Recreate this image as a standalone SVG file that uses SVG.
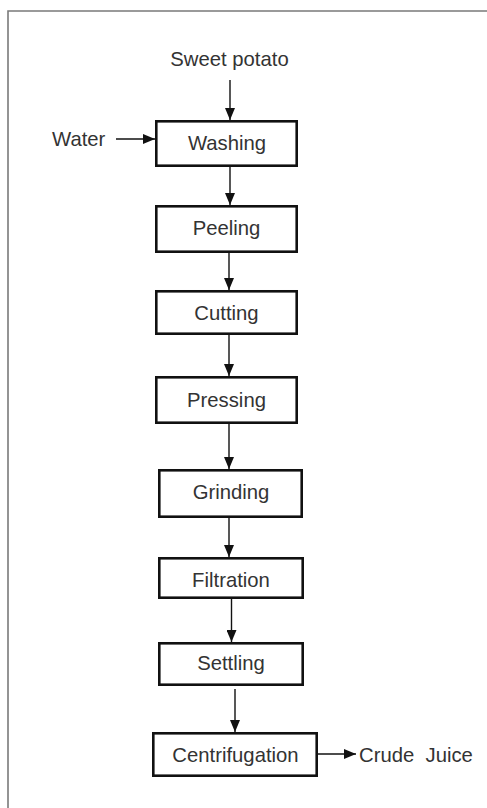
<svg xmlns="http://www.w3.org/2000/svg" width="487" height="808" viewBox="0 0 487 808">
  <style>
    .box { fill: #ffffff; stroke: #111111; stroke-width: 2.6; }
    .lbl { font-family: "Liberation Sans", Arial, sans-serif; font-size: 20.3px; fill: #333333; text-anchor: middle; }
    .lbl-s { font-family: "Liberation Sans", Arial, sans-serif; font-size: 20.3px; fill: #333333; text-anchor: start; }
    .conn { stroke: #111111; stroke-width: 1.4; fill: none; marker-end: url(#arrow); }
  </style>
  <defs>
    <marker id="arrow" markerUnits="userSpaceOnUse" markerWidth="12" markerHeight="10" refX="12" refY="5" orient="auto">
      <path d="M0,0 L12,5 L0,10 Z" fill="#111111"/>
    </marker>
  </defs>
  <rect x="0" y="0" width="487" height="808" fill="#ffffff"/>
  <path d="M8,820 L8,11 L500,11" fill="none" stroke="#7a7a7a" stroke-width="1.6"/>

  <g id="connectors">
    <line class="conn" x1="230" y1="80" x2="230" y2="120"/>
    <line class="conn" x1="116" y1="139" x2="155" y2="139"/>
    <line class="conn" x1="230" y1="167" x2="230" y2="205"/>
    <line class="conn" x1="229" y1="253" x2="229" y2="290"/>
    <line class="conn" x1="229" y1="335" x2="229" y2="376"/>
    <line class="conn" x1="229" y1="424" x2="229" y2="469"/>
    <line class="conn" x1="229" y1="518" x2="229" y2="557"/>
    <line class="conn" x1="231.5" y1="599" x2="231.5" y2="642"/>
    <line class="conn" x1="235" y1="689" x2="235" y2="732"/>
    <line class="conn" x1="318" y1="754" x2="356" y2="754"/>
  </g>

  <g id="sweet-potato"><text class="lbl" x="229.5" y="66">Sweet potato</text></g>
  <g id="water"><text class="lbl-s" x="52" y="146">Water</text></g>
  <g id="washing">
    <rect class="box" x="156.3" y="121.3" width="140.4" height="44.4"/>
    <text class="lbl" x="227" y="150">Washing</text>
  </g>
  <g id="peeling">
    <rect class="box" x="156.3" y="206.3" width="140.4" height="45.4"/>
    <text class="lbl" x="226.5" y="235">Peeling</text>
  </g>
  <g id="cutting">
    <rect class="box" x="156.3" y="291.3" width="140.4" height="42.4"/>
    <text class="lbl" x="226.5" y="320">Cutting</text>
  </g>
  <g id="pressing">
    <rect class="box" x="156.3" y="377.3" width="140.4" height="45.4"/>
    <text class="lbl" x="226.5" y="407">Pressing</text>
  </g>
  <g id="grinding">
    <rect class="box" x="159.3" y="470.3" width="142.4" height="46.4"/>
    <text class="lbl" x="231" y="499">Grinding</text>
  </g>
  <g id="filtration">
    <rect class="box" x="159.3" y="558.3" width="143.4" height="39.4"/>
    <text class="lbl" x="231" y="587">Filtration</text>
  </g>
  <g id="settling">
    <rect class="box" x="159.3" y="643.3" width="143.4" height="41.4"/>
    <text class="lbl" x="231" y="670">Settling</text>
  </g>
  <g id="centrifugation">
    <rect class="box" x="153.3" y="733.3" width="163.4" height="42.4"/>
    <text class="lbl" x="235.5" y="762">Centrifugation</text>
  </g>
  <g id="crude-juice"><text class="lbl-s" x="359" y="762" xml:space="preserve" style="white-space: pre">Crude  Juice</text></g>
</svg>
